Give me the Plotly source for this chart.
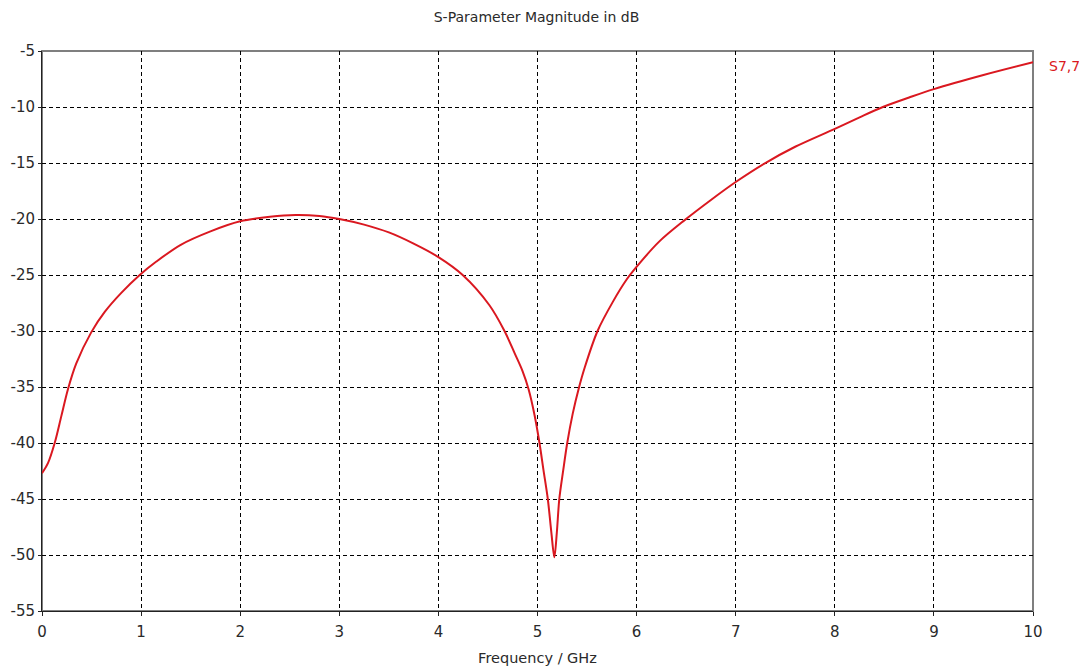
import plotly.graph_objects as go

freq_ghz = [0.0, 0.06, 0.128, 0.195, 0.262, 0.346, 0.498, 0.633, 0.80, 0.986, 1.154, 1.4,
            1.7, 2.0, 2.3, 2.56, 2.8, 3.0, 3.25, 3.5, 3.75, 4.0, 4.245, 4.515, 4.667,
            4.77, 4.85, 4.91, 4.97, 5.02, 5.06, 5.104, 5.14, 5.17, 5.195, 5.22, 5.26,
            5.30, 5.355, 5.42, 5.475, 5.606, 5.76, 5.896, 5.997, 6.23, 6.485, 6.75, 7.0,
            7.29, 7.6, 8.0, 8.25, 8.485, 8.75, 9.0, 9.5, 10.0]
s77_db = [-42.7, -41.8, -40.0, -37.6, -35.2, -32.9, -30.1, -28.3, -26.6, -25.0, -23.8,
          -22.3, -21.1, -20.2, -19.8, -19.64, -19.73, -20.0, -20.5, -21.2, -22.2, -23.4,
          -25.0, -27.7, -30.0, -32.0, -33.6, -35.2, -37.5, -40.0, -42.4, -45.0, -48.0,
          -50.2, -48.0, -45.0, -42.4, -40.0, -37.4, -35.0, -33.3, -30.0, -27.4, -25.45,
          -24.3, -22.0, -20.1, -18.3, -16.7, -15.05, -13.55, -11.95, -10.92, -10.0, -9.15,
          -8.4, -7.14, -6.0]

x_ticks = list(range(0, 11))
y_ticks = list(range(-55, 0, 5))

title_text = "S-Parameter Magnitude in dB"
x_title = "Frequency / GHz"
series_name = "S7,7"

red = "rgb(218,24,32)"
font_family = "DejaVu Sans"
txt = "#2a2a2a"

# The page body has an 8px default margin; size the figure so the plot lands in place.
W, H = 1079, 663

fig = go.Figure()
fig.add_trace(go.Scatter(x=freq_ghz, y=s77_db, mode="lines", name=series_name,
                         line=dict(color=red, width=2, shape="spline", smoothing=0.9),
                         showlegend=False))

fig.add_annotation(x=freq_ghz[-1], y=s77_db[-1], xref="x", yref="y", text=series_name,
                   showarrow=False, xanchor="left", yanchor="middle", xshift=14, yshift=-4,
                   font=dict(family=font_family, size=14, color=red))

# grey frame on top/right
fig.add_shape(type="rect", xref="paper", yref="paper", x0=0, y0=0, x1=1, y1=1,
              line=dict(color="#7f7f7f", width=2), layer="below")

grid = dict(showgrid=True, gridcolor="black", gridwidth=1, griddash="4px,3px")

fig.update_layout(
    width=W, height=H,
    margin=dict(l=34, r=54, t=43, b=60),
    paper_bgcolor="white", plot_bgcolor="white",
    font=dict(family=font_family, size=14, color=txt),
    title=dict(text=title_text, x=528.5 / W, xanchor="center", y=1 - 9.5 / H,
               yanchor="middle", font=dict(family=font_family, size=14, color=txt)),
    xaxis=dict(range=[0, 10], tickvals=x_ticks, ticktext=[str(v) for v in x_ticks],
               showline=True, linecolor="#222", linewidth=1, ticks="outside", ticklen=4,
               tickcolor="#222", zeroline=False, automargin=False, ticklabelstandoff=3,
               tickfont=dict(size=15, color=txt),
               title=dict(text=x_title, standoff=12, font=dict(size=14.5, color=txt)), **grid),
    yaxis=dict(range=[-55, -5], tickvals=y_ticks, ticktext=[str(v) for v in y_ticks],
               showline=True, linecolor="#222", linewidth=1, ticks="outside", ticklen=3,
               tickcolor="#222", zeroline=False, automargin=False,
               tickfont=dict(size=15, color=txt), **grid),
)

fig.write_html("out.html")
